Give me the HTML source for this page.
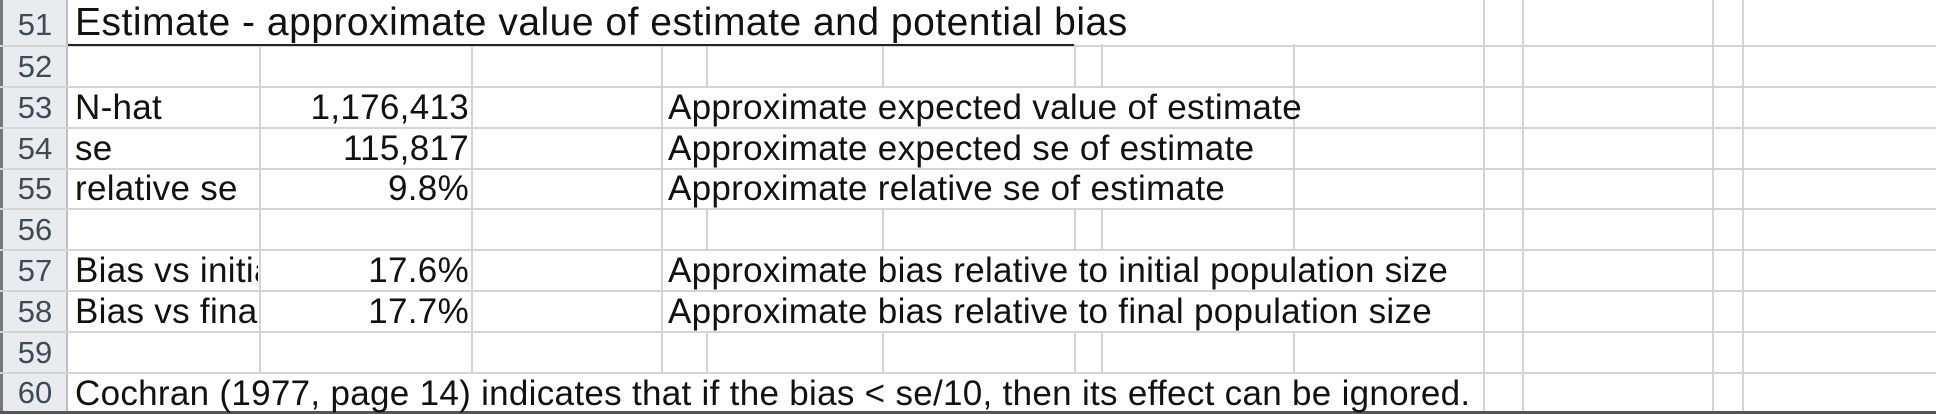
<!DOCTYPE html>
<html><head><meta charset="utf-8"><style>
body{margin:0;width:1936px;height:414px;background:#fff;overflow:hidden;position:relative;font-family:"Liberation Sans",sans-serif;}
.vl{position:absolute;top:0;height:412px;width:2px;background:#d4d4d4;}
.hl{position:absolute;left:0;width:1936px;height:2px;background:#d4d4d4;}
.m{position:absolute;background:#fff;height:39px;}
.rn{position:absolute;left:3px;width:64px;color:#3d4a58;font-size:31px;text-align:center;}
.t{position:absolute;font-size:35px;color:#111;white-space:nowrap;line-height:41px;letter-spacing:0.3px;}
.r{text-align:right;}
</style></head><body>
<div style="position:absolute;left:0;top:0;width:68px;height:414px;background:#e9ebee;border-left:3px solid #777;box-sizing:border-box;border-right:2px solid #b8c0c8"></div>
<div class="vl" style="left:259px"></div><div class="vl" style="left:471px"></div>
<div class="vl" style="left:661px"></div><div class="vl" style="left:706px"></div><div class="vl" style="left:882px"></div>
<div class="vl" style="left:1074px"></div><div class="vl" style="left:1101px"></div><div class="vl" style="left:1293px"></div>
<div class="vl" style="left:1483px"></div><div class="vl" style="left:1522px"></div><div class="vl" style="left:1712px"></div><div class="vl" style="left:1742px"></div>
<div style="position:absolute;left:69px;top:0;width:1413px;height:44px;background:#fff"></div>
<div class="m" style="left:663px;top:88px;width:629px"></div>
<div class="m" style="left:663px;top:129px;width:629px"></div>
<div class="m" style="left:663px;top:170px;width:629px"></div>
<div class="m" style="left:663px;top:251px;width:819px"></div>
<div class="m" style="left:663px;top:292px;width:819px"></div>
<div class="hl" style="top:45px"></div><div class="hl" style="top:86px"></div><div class="hl" style="top:127px"></div><div class="hl" style="top:168px"></div><div class="hl" style="top:208px"></div><div class="hl" style="top:249px"></div><div class="hl" style="top:290px"></div><div class="hl" style="top:331px"></div><div class="hl" style="top:372px"></div>
<div style="position:absolute;left:69px;top:374px;width:1413px;height:37px;background:#fff"></div>
<div style="position:absolute;left:0;top:411px;width:1936px;height:3px;background:#555"></div>
<div style="position:absolute;left:68px;top:44px;width:1006px;height:2px;background:#222"></div>
<div class="rn" style="top:4px;line-height:41px">51</div>
<div class="rn" style="top:47px;line-height:39px">52</div>
<div class="rn" style="top:88px;line-height:39px">53</div>
<div class="rn" style="top:129px;line-height:39px">54</div>
<div class="rn" style="top:170px;line-height:38px">55</div>
<div class="rn" style="top:210px;line-height:39px">56</div>
<div class="rn" style="top:251px;line-height:39px">57</div>
<div class="rn" style="top:292px;line-height:39px">58</div>
<div class="rn" style="top:333px;line-height:39px">59</div>
<div class="rn" style="top:374px;line-height:38px">60</div>
<div class="t" style="left:75px;top:2px;font-size:39px;letter-spacing:0.5px">Estimate - approximate value of estimate and potential bias</div>
<div class="t" style="left:75px;top:87px">N-hat</div>
<div class="t r" style="right:1467px;top:87px">1,176,413</div>
<div class="t" style="left:668px;top:87px">Approximate expected value of estimate</div>
<div class="t" style="left:75px;top:128px">se</div>
<div class="t r" style="right:1467px;top:128px">115,817</div>
<div class="t" style="left:668px;top:128px">Approximate expected se of estimate</div>
<div class="t" style="left:75px;top:168px">relative se</div>
<div class="t r" style="right:1467px;top:168px">9.8%</div>
<div class="t" style="left:668px;top:168px">Approximate relative se of estimate</div>
<div class="t" style="left:75px;top:250px;width:183px;overflow:hidden">Bias vs initial</div>
<div class="t r" style="right:1467px;top:250px">17.6%</div>
<div class="t" style="left:668px;top:250px">Approximate bias relative to initial population size</div>
<div class="t" style="left:75px;top:291px;width:183px;overflow:hidden">Bias vs final</div>
<div class="t r" style="right:1467px;top:291px">17.7%</div>
<div class="t" style="left:668px;top:291px">Approximate bias relative to final population size</div>
<div class="t" style="left:75px;top:373px">Cochran (1977, page 14) indicates that if the bias &lt; se/10, then its effect can be ignored.</div>
</body></html>
